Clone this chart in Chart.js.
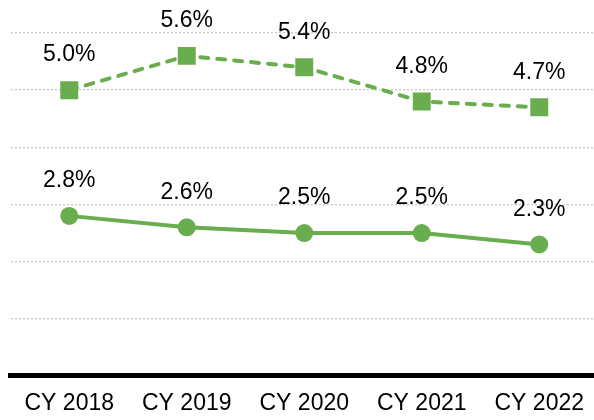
<!DOCTYPE html>
<html>
<head>
<meta charset="utf-8">
<script src="https://cdn.jsdelivr.net/npm/chart.js@4/dist/chart.umd.min.js"></script>
<style>
  html, body { margin: 0; padding: 0; background: #fff; overflow: hidden; }
  #wrap { width: 594px; height: 420px; overflow: hidden; }
  #box { width: 600px; height: 420px; }
</style>
</head>
<body>
<div id="wrap"><div id="box"><canvas id="c" width="600" height="420"></canvas></div></div>
<script>
// Calendar years on the x axis
const years = ['CY 2018', 'CY 2019', 'CY 2020', 'CY 2021', 'CY 2022'];
// Upper series (dashed, square markers), percent
const upperRate = [5.0, 5.6, 5.4, 4.8, 4.7];
// Lower series (solid, round markers), percent
const lowerRate = [2.8, 2.6, 2.5, 2.5, 2.3];
// Value axis range and step
const yMin = 0, yMax = 6, yStep = 1;

const GREEN = '#6aad4e';
const FONT = "'Liberation Sans', Arial, sans-serif";

// Writes each point's value as a percentage above its marker
const valueLabels = {
  id: 'valueLabels',
  afterDatasetsDraw(chart) {
    const ctx = chart.ctx;
    ctx.save();
    ctx.font = '23px ' + FONT;
    ctx.fillStyle = '#000';
    ctx.textAlign = 'center';
    ctx.textBaseline = 'middle';
    chart.data.datasets.forEach((ds, i) => {
      chart.getDatasetMeta(i).data.forEach((pt, j) => {
        ctx.fillText(ds.data[j].toFixed(1) + '%', pt.x, pt.y - 35);
      });
    });
    ctx.restore();
  }
};

new Chart(document.getElementById('c'), {
  type: 'line',
  data: {
    labels: years,
    datasets: [
      {
        data: upperRate,
        borderColor: GREEN,
        backgroundColor: GREEN,
        borderWidth: 4,
        borderDash: [8, 9],
        borderCapStyle: 'round',
        pointStyle: 'rect',
        pointRadius: 12.7,
        pointBorderWidth: 0,
        tension: 0
      },
      {
        data: lowerRate,
        borderColor: GREEN,
        backgroundColor: GREEN,
        borderWidth: 4,
        pointStyle: 'circle',
        pointRadius: 9,
        pointBorderWidth: 0,
        tension: 0
      }
    ]
  },
  options: {
    responsive: false,
    animation: false,
    layout: { autoPadding: false, padding: { left: 10.5, right: 2, top: 33, bottom: -11.5 } },
    plugins: { legend: { display: false }, tooltip: { enabled: false } },
    scales: {
      x: {
        offset: true,
        grid: { display: false, drawTicks: false },
        border: { display: true, color: '#000', width: 5 },
        ticks: { color: '#000', padding: 14, font: { family: FONT, size: 23 } },
        // labels sit well inside their category slots, so no side padding is needed
        afterFit(scale) { scale.paddingLeft = 0; scale.paddingRight = 0; }
      },
      y: {
        min: yMin,
        max: yMax,
        ticks: { stepSize: yStep, display: false },
        border: { display: false, dash: [2, 2] },
        grid: { color: '#c8c8c8', lineWidth: 1.3, drawTicks: false, tickLength: 0 },
      }
    }
  },
  plugins: [valueLabels]
});
</script>
</body>
</html>
